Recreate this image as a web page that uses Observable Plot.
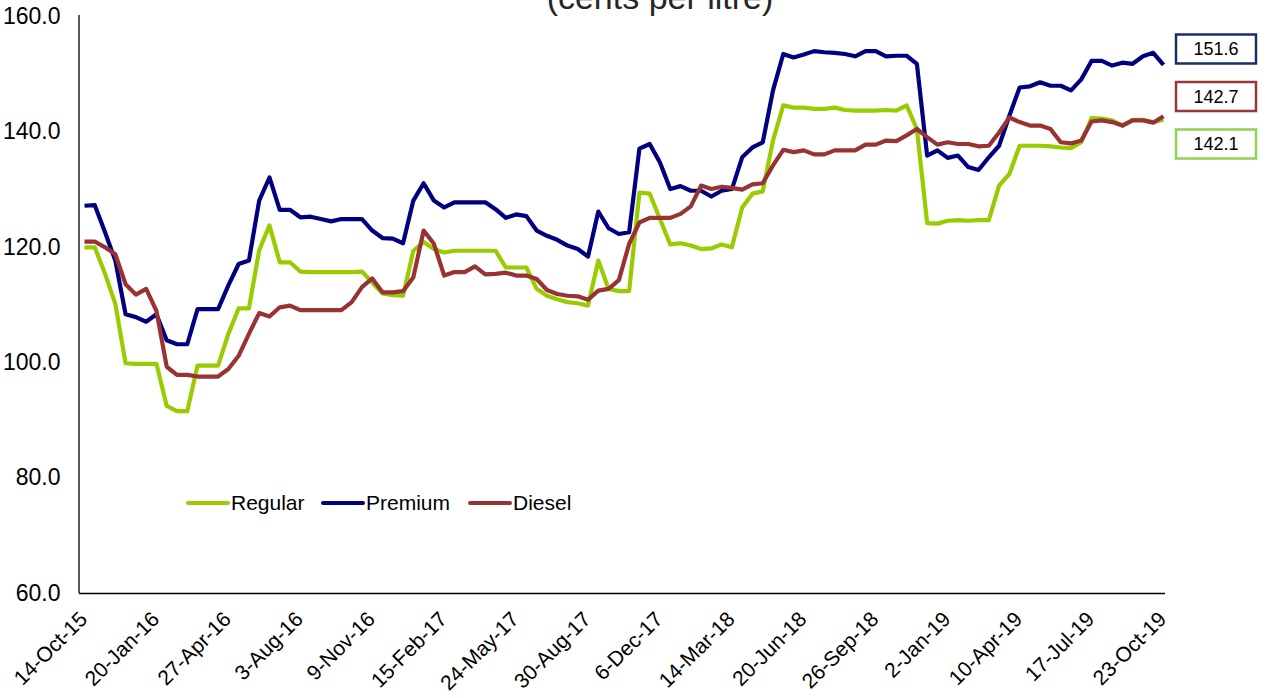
<!DOCTYPE html>
<html><head><meta charset="utf-8">
<script src="https://cdn.jsdelivr.net/npm/d3@7"></script>
<script src="https://cdn.jsdelivr.net/npm/@observablehq/plot@0.6"></script>
<style>
body{margin:0;background:#fff;}
#chart{position:relative;width:1265px;height:698px;overflow:hidden;}
</style>
</head><body><div id="chart"></div>
<script>
// bi-weekly observations starting 14-Oct-15
const startDate = "2015-10-14";
const regular = [
120.0,120.0,115.4,110.2,99.9,99.8,99.8,99.8,92.5,91.6,91.6,99.5,99.5,99.5,105.0,109.4,109.4,119.5,123.8,117.4,
117.4,115.8,115.7,115.7,115.7,115.7,115.7,115.8,113.9,112.0,111.7,111.6,119.4,120.9,119.7,119.1,119.4,119.4,119.4,119.4,
119.4,116.5,116.5,116.5,112.8,111.6,111.0,110.5,110.3,109.9,117.7,112.8,112.4,112.4,129.5,129.3,124.9,120.5,120.7,120.3,
119.7,119.8,120.5,120.0,126.9,129.3,129.7,138.5,144.6,144.2,144.2,144.0,144.0,144.2,143.8,143.7,143.7,143.7,143.8,143.7,
144.6,140.5,124.2,124.1,124.6,124.7,124.6,124.7,124.7,130.7,132.7,137.6,137.6,137.6,137.5,137.3,137.2,138.2,142.4,142.3,
142.0,141.1,142.1,142.1,141.7,142.1];
const premium = [
127.2,127.3,122.6,117.7,108.4,107.9,107.1,108.4,103.9,103.2,103.2,109.3,109.3,109.3,113.4,117.1,117.7,128.1,132.1,126.5,
126.5,125.2,125.3,124.9,124.5,124.9,124.9,124.9,122.9,121.6,121.5,120.7,128.1,131.1,128.1,126.9,127.8,127.8,127.8,127.8,
126.6,125.1,125.7,125.4,122.9,122.0,121.3,120.3,119.7,118.4,126.2,123.3,122.3,122.6,137.1,137.9,134.7,130.1,130.6,129.8,
129.8,128.8,129.8,130.1,135.6,137.3,138.2,147.2,153.5,152.9,153.4,154.0,153.8,153.7,153.5,153.1,154.0,154.0,153.1,153.2,
153.2,151.8,135.9,136.8,135.5,135.9,133.9,133.4,135.6,137.6,142.8,147.7,147.9,148.6,148.0,148.0,147.2,149.1,152.3,152.3,
151.5,152.0,151.8,153.1,153.7,151.6];
const diesel = [
121.0,121.0,120.0,118.8,113.6,111.8,112.8,109.0,99.3,97.9,97.9,97.6,97.6,97.6,98.9,101.2,105.0,108.6,108.0,109.6,
109.9,109.1,109.1,109.1,109.1,109.1,110.5,113.1,114.6,112.2,112.2,112.4,114.8,122.9,120.6,115.1,115.7,115.7,116.7,115.3,
115.4,115.6,115.1,115.1,114.5,112.6,111.9,111.6,111.5,110.9,112.5,112.8,114.3,120.6,124.3,125.1,125.1,125.1,125.8,127.1,
130.7,130.1,130.5,130.3,130.0,130.9,131.1,134.2,136.9,136.5,136.8,136.1,136.1,136.8,136.8,136.8,137.8,137.8,138.5,138.4,
139.4,140.5,139.1,137.8,138.2,137.9,137.9,137.5,137.6,139.9,142.5,141.7,141.1,141.1,140.5,138.2,138.0,138.5,141.8,142.0,
141.7,141.1,142.0,142.0,141.6,142.7];
const tickLabels = ["14-Oct-15","20-Jan-16","27-Apr-16","3-Aug-16","9-Nov-16","15-Feb-17","24-May-17","30-Aug-17",
  "6-Dec-17","14-Mar-18","20-Jun-18","26-Sep-18","2-Jan-19","10-Apr-19","17-Jul-19","23-Oct-19"];
const yTicks = [60, 80, 100, 120, 140, 160];
const seriesNames = ["Regular", "Premium", "Diesel"];
const seriesColors = ["#99cc00", "#000080", "#993333"];
const boxOrder = ["Premium", "Diesel", "Regular"];
const boxColors = ["#1a2f66", "#953735", "#92d050"];
const titleText = "(cents per litre)";

const start = new Date(startDate + "T00:00:00Z");
const dates = regular.map((_, i) => d3.utcDay.offset(start, 14 * i));
const seriesVals = [regular, premium, diesel];
const rows = [];
seriesVals.forEach((vals, s) => vals.forEach((v, i) => rows.push({date: dates[i], value: v, series: seriesNames[s]})));
const tickRows = tickLabels.map((lab, j) => ({date: dates[j * 7], label: lab}));

const W = 1265, H = 698, mL = 79, mR = 100, mT = 16, mB = 105;
const font = "'Liberation Sans', Arial, sans-serif";

const chart = Plot.plot({
  width: W, height: H,
  marginLeft: mL, marginRight: mR, marginTop: mT, marginBottom: mB,
  style: {fontFamily: font, fontSize: "21px", color: "#000", background: "#fff", overflow: "hidden"},
  x: {type: "utc", domain: [dates[0], dates[dates.length - 1]], insetLeft: 5, insetRight: 2, axis: null},
  y: {domain: [60, 160], axis: null},
  color: {domain: seriesNames, range: seriesColors},
  marks: [
    Plot.text(yTicks, {y: d => d, frameAnchor: "left", dx: -19, textAnchor: "end", text: d => d.toFixed(1), fontSize: 23, fill: "#000"}),
    Plot.text(tickRows, {x: "date", frameAnchor: "bottom", dx: 4, dy: 27, rotate: -45, textAnchor: "end", text: "label", fontSize: 21, fill: "#000"}),
    Plot.ruleY([60], {stroke: "#000", strokeWidth: 1.3}),
    Plot.lineY(rows, {x: "date", y: "value", stroke: "series", z: "series", strokeWidth: 4.2, strokeLinejoin: "round", strokeLinecap: "butt"})
  ]
});

const svg = d3.select(chart);

// y axis line
svg.append("line").attr("x1", mL).attr("x2", mL).attr("y1", mT - 1).attr("y2", H - mB)
  .attr("stroke", "#000").attr("stroke-width", 1.3);

// title (top portion cropped in the reference)
svg.append("text").attr("x", 660).attr("y", 9).attr("text-anchor", "middle")
  .attr("font-family", font).attr("font-size", 34).attr("fill", "#262626").text(titleText);

// legend
const legendX = [188, 323, 470];
const lg = svg.append("g").attr("font-family", font).attr("font-size", 21).attr("text-anchor", "start");
seriesNames.forEach((name, i) => {
  const g = lg.append("g").attr("transform", `translate(${legendX[i]},503)`);
  g.append("line").attr("x1", 0).attr("x2", 40).attr("y1", 0).attr("y2", 0)
    .attr("stroke", seriesColors[i]).attr("stroke-width", 4).attr("stroke-linecap", "round");
  g.append("text").attr("x", 43).attr("y", 0).attr("dy", "0.35em").attr("text-anchor", "start")
    .attr("fill", "#000").text(name);
});

// end-value boxes
const bg = svg.append("g").attr("font-family", font).attr("font-size", 18);
boxOrder.forEach((name, i) => {
  const vals = seriesVals[seriesNames.indexOf(name)];
  const last = vals[vals.length - 1];
  const cy = 49 + i * 47.5;
  bg.append("rect").attr("x", 1176).attr("y", cy - 14.5).attr("width", 80).attr("height", 29)
    .attr("fill", "#fff").attr("stroke", boxColors[i]).attr("stroke-width", 2.5);
  bg.append("text").attr("x", 1216).attr("y", cy).attr("dy", "0.36em").attr("text-anchor", "middle")
    .attr("fill", "#000").text(last.toFixed(1));
});

document.getElementById("chart").appendChild(chart);
</script>
</body></html>
